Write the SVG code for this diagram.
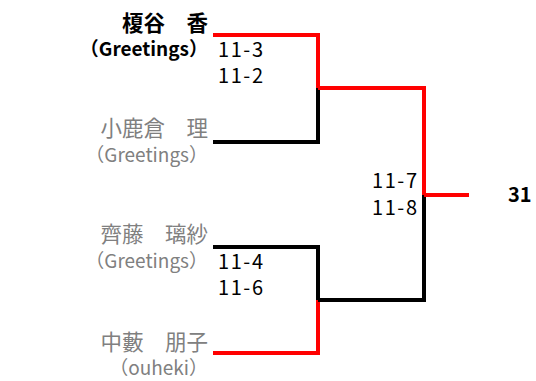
<svg xmlns="http://www.w3.org/2000/svg" width="536" height="381" viewBox="0 0 536 381">
<style>
.t{font-family:"Noto Sans CJK JP","Liberation Sans",sans-serif;font-size:19px}
.nm{font-size:21.5px}
.sc{font-size:20px}
.n{text-anchor:end}
.b{font-weight:bold;fill:#000}
.g{fill:#808080}
.s{fill:#000}
.r{stroke:#ff0000;stroke-width:4;fill:none}
.k{stroke:#000;stroke-width:4;fill:none}
</style>
<rect width="536" height="381" fill="#fff"/>
<g id="connectors">
<polyline class="k" points="213,142 318,142 318,88"/>
<polyline class="r" points="213,35 318,35 318,88"/>
<polyline class="k" points="213,247 318,247 318,302"/>
<polyline class="r" points="213,353 318,353 318,300"/>
<polyline class="k" points="318,300 424,300 424,195"/>
<polyline class="r" points="318,88 424,88 424,195"/>
<line class="r" x1="424" y1="195" x2="469" y2="195"/>
</g>
<g id="p1"><text class="t nm n b" x="208" y="31">榎谷　香</text><text class="t n b" x="208" y="56">（Greetings）</text></g>
<g id="p2"><text class="t nm n g" x="208" y="136">小鹿倉　理</text><text class="t n g" x="208" y="162">（Greetings）</text></g>
<g id="p3"><text class="t nm n g" x="208" y="242">齊藤　璃紗</text><text class="t n g" x="208" y="268">（Greetings）</text></g>
<g id="p4"><text class="t nm n g" x="208" y="350">中藪　朋子</text><text class="t n g" x="208" y="375">（ouheki）</text></g>
<g id="scores">
<text class="t sc s" x="218" y="57" textLength="45">11-3</text><text class="t sc s" x="218" y="83" textLength="45">11-2</text>
<text class="t sc s" x="218" y="269" textLength="45">11-4</text><text class="t sc s" x="218" y="295" textLength="45">11-6</text>
<text class="t sc s" x="372" y="188" textLength="45">11-7</text><text class="t sc s" x="372" y="215" textLength="45">11-8</text>
</g>
<g id="winner"><text class="t b sc" x="508" y="202">31</text></g>
</svg>
